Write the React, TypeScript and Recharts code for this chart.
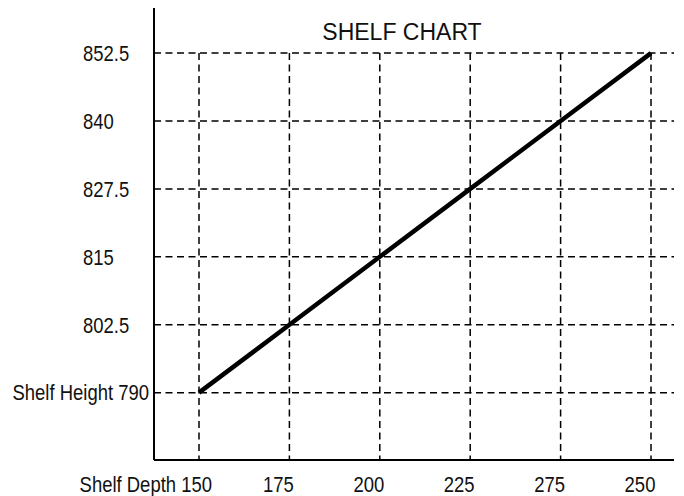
import React from "react";
import { Line, LineChart, ReferenceLine, XAxis, YAxis } from "recharts";

const DEPTHS = ["150", "175", "200", "225", "275", "250"];
const HEIGHTS = [790, 802.5, 815, 827.5, 840, 852.5];
const Y_TICKS = [790, 802.5, 815, 827.5, 840, 852.5];
const Y_DOMAIN = [777.6, 860.8];

const data = DEPTHS.map((d, i) => ({ depth: d, height: HEIGHTS[i] }));

const FONT = "'Liberation Sans', Arial, sans-serif";
const GRID = { stroke: "#000", strokeWidth: 1.5, strokeDasharray: "7 4.5" };
const SQUEEZE = 0.84;

// narrow text: Liberation Sans squeezed horizontally
function NarrowTick(props: any) {
  const { x, y, payload, index, dy, layout } = props;
  const { text, anchor, dx } = layout(payload.value, index);
  return (
    <g transform={`translate(${x + dx},${y})`}>
      <text
        transform={`scale(${SQUEEZE},1)`}
        textAnchor={anchor}
        dy={dy}
        fontSize={22}
        fontFamily={FONT}
        fill="#111"
      >
        {text}
      </text>
    </g>
  );
}

const xLayout = (v: string, i: number) =>
  i === 0
    ? { text: `Shelf Depth ${v}`, anchor: "end", dx: 13 }
    : { text: v, anchor: "middle", dx: -11 };

const yLayout = (v: number) =>
  v === 790
    ? { text: "Shelf Height 790", anchor: "end", dx: 0 }
    : { text: String(v), anchor: "start", dx: -66 };

export default function App() {
  return (
    <div style={{ position: "relative", width: 684, height: 496 }}>
      <style>{`body{margin:0}`}</style>
      <LineChart
        width={684}
        height={496}
        data={data}
        margin={{ top: 8, right: 10, bottom: 0, left: 0 }}
      >
        {Y_TICKS.map((t) => (
          <ReferenceLine key={`h${t}`} y={t} {...GRID} />
        ))}
        {DEPTHS.map((d) => (
          <ReferenceLine
            key={`v${d}`}
            segment={[
              { x: d, y: Y_TICKS[Y_TICKS.length - 1] },
              { x: d, y: Y_DOMAIN[0] },
            ]}
            {...GRID}
          />
        ))}
        <XAxis
          dataKey="depth"
          type="category"
          padding={{ left: 45, right: 23 }}
          height={36}
          axisLine={{ stroke: "#000", strokeWidth: 2 }}
          tickLine={false}
          tickSize={8}
          tickMargin={8}
          interval={0}
          tick={<NarrowTick dy="0.71em" layout={xLayout} />}
        />
        <YAxis
          type="number"
          domain={Y_DOMAIN}
          ticks={Y_TICKS}
          width={154}
          axisLine={{ stroke: "#000", strokeWidth: 2 }}
          tickLine={false}
          tickSize={3}
          tickMargin={2}
          interval={0}
          tick={<NarrowTick dy="0.355em" layout={yLayout} />}
        />
        <Line
          type="linear"
          dataKey="height"
          stroke="#000"
          strokeWidth={4.5}
          dot={false}
          isAnimationActive={false}
        />
      </LineChart>
      <div
        style={{
          position: "absolute",
          left: 302,
          top: 21,
          width: 200,
          textAlign: "center",
          fontFamily: FONT,
          fontSize: 23,
          lineHeight: "23px",
          color: "#111",
          whiteSpace: "nowrap",
        }}
      >
        SHELF CHART
      </div>
    </div>
  );
}
